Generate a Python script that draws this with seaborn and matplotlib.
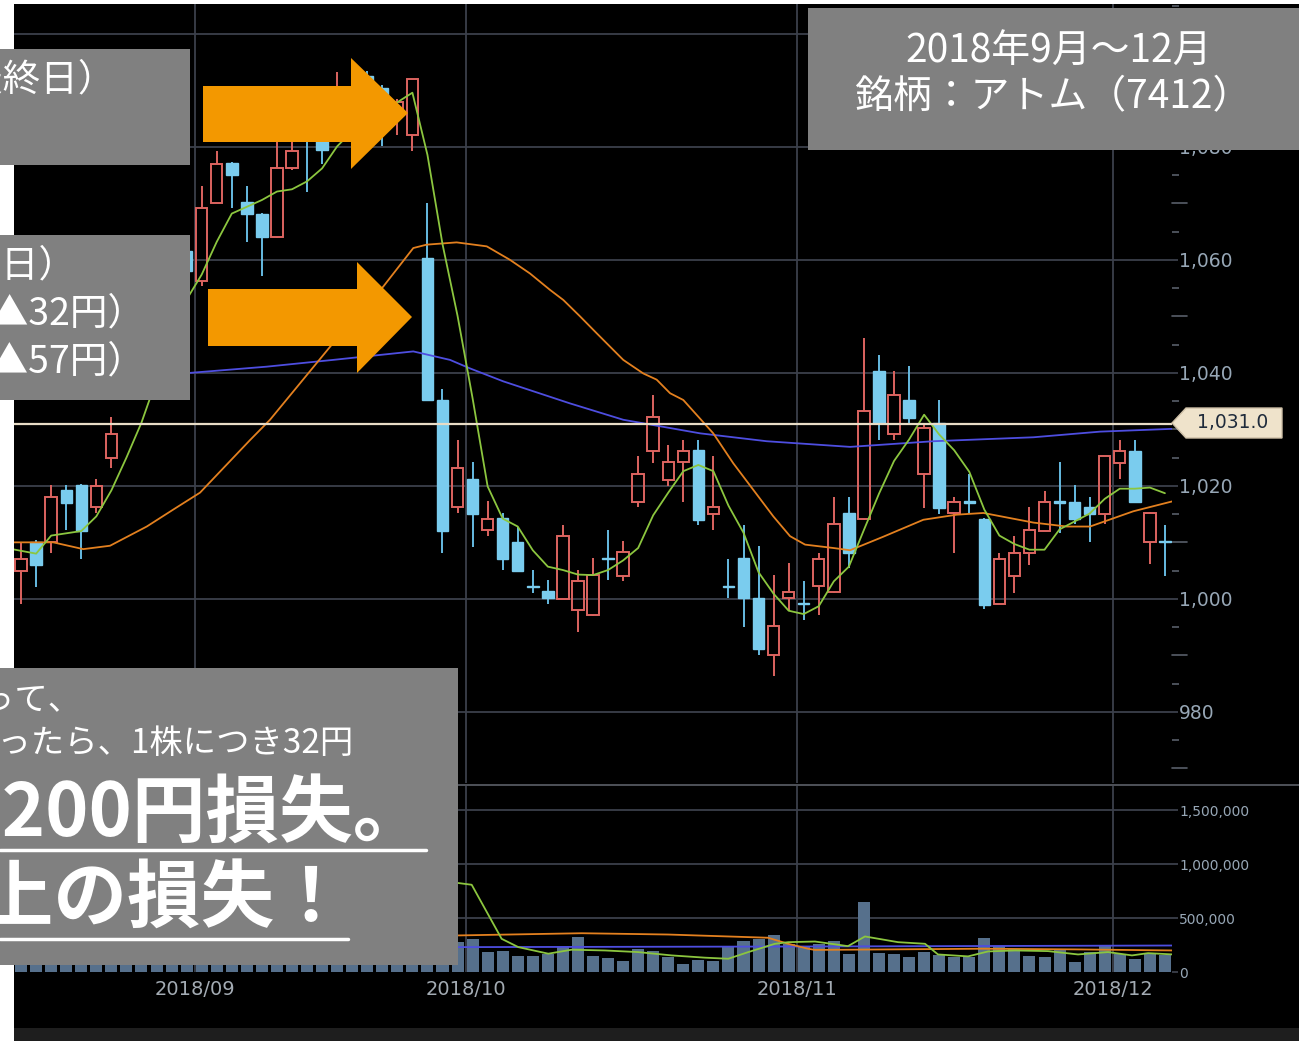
import numpy as np
import pandas as pd
import seaborn as sns
import matplotlib.pyplot as plt
from matplotlib.patches import Rectangle, Polygon
from matplotlib.lines import Line2D
from matplotlib.transforms import blended_transform_factory
from matplotlib.ticker import FixedLocator, FuncFormatter

# アトム(7412) 日足 2018/08/16〜2018/12/06（x は営業日の通し番号）
opens = [1005.0, 1010.1, 1010.0, 1019.3, 1020.2, 1016.2, 1025.0, 1036.0, 1046.0, 1049.0,
         1051.0, 1061.5, 1056.2, 1070.0, 1077.1, 1070.2, 1068.1, 1064.0, 1076.2, 1085.0,
         1082.0, 1081.5, 1084.0, 1092.5, 1090.5, 1086.5, 1082.1, 1060.3, 1035.2, 1016.2,
         1021.2, 1012.2, 1014.3, 1010.1, 1002.3, 1001.3, 1000.0, 998.1, 997.1, 1007.2,
         1004.1, 1017.1, 1026.1, 1021.1, 1024.2, 1026.3, 1015.0, 1002.3, 1007.2, 1000.2,
         990.1, 1000.1, 999.2, 1002.2, 1001.2, 1015.2, 1014.2, 1040.3, 1029.2, 1035.2,
         1022.1, 1031.2, 1015.2, 1017.2, 1014.2, 999.1, 1004.1, 1008.2, 1012.0, 1017.2,
         1017.1, 1016.2, 1015.0, 1024.1, 1026.2, 1010.1, 1010.2]
highs = [1009.9, 1010.5, 1020.2, 1020.2, 1020.4, 1021.2, 1032.2, 1048.0, 1052.0, 1054.0,
         1063.5, 1062.5, 1073.1, 1079.2, 1077.3, 1073.1, 1068.3, 1082.0, 1083.0, 1087.0,
         1084.0, 1093.2, 1091.0, 1093.5, 1091.0, 1088.5, 1092.0, 1070.0, 1037.1, 1028.1,
         1024.3, 1017.3, 1015.2, 1012.8, 1005.1, 1003.4, 1013.1, 1005.1, 1007.2, 1012.2,
         1010.2, 1025.2, 1036.1, 1027.2, 1028.1, 1028.1, 1025.2, 1007.1, 1013.1, 1009.3,
         1004.2, 1006.3, 1003.2, 1008.1, 1018.1, 1018.1, 1046.1, 1043.2, 1040.3, 1041.2,
         1031.2, 1035.2, 1018.1, 1022.1, 1014.3, 1008.2, 1011.2, 1016.2, 1019.1, 1024.2,
         1020.2, 1018.1, 1025.3, 1028.1, 1028.1, 1015.3, 1013.1]
lows = [999.1, 1002.1, 1008.1, 1012.2, 1007.0, 1015.2, 1023.1, 1035.8, 1043.0, 1046.0,
        1050.0, 1056.0, 1055.3, 1070.0, 1069.1, 1063.1, 1057.1, 1063.8, 1076.0, 1072.0,
        1077.0, 1081.2, 1083.0, 1088.0, 1080.1, 1082.1, 1079.2, 1035.0, 1008.2, 1015.2,
        1009.1, 1011.1, 1005.1, 1005.0, 1001.0, 999.1, 1000.0, 994.1, 997.0, 1003.4,
        1003.2, 1016.2, 1024.1, 1020.0, 1017.1, 1013.1, 1012.1, 1000.1, 995.1, 990.1,
        986.3, 998.1, 996.3, 997.2, 1001.0, 1005.4, 1014.0, 1028.1, 1028.1, 1031.2,
        1016.0, 1015.0, 1008.2, 1015.0, 998.2, 999.0, 1001.0, 1006.0, 1012.0, 1011.7,
        1013.2, 1010.1, 1013.2, 1021.2, 1017.0, 1006.1, 1004.1]
closes = [1007.0, 1006.0, 1018.0, 1017.0, 1012.0, 1020.0, 1029.2, 1046.8, 1048.0, 1050.0,
          1062.0, 1058.0, 1069.1, 1077.0, 1075.0, 1068.1, 1064.0, 1076.3, 1079.2, 1082.0,
          1079.5, 1083.5, 1090.0, 1091.0, 1087.0, 1088.0, 1092.0, 1035.2, 1012.0, 1023.1,
          1015.0, 1014.1, 1007.0, 1005.0, 1002.1, 1000.1, 1011.2, 1003.2, 1004.2, 1007.0,
          1008.3, 1022.1, 1032.2, 1024.2, 1026.2, 1014.0, 1016.2, 1002.1, 1000.1, 991.1,
          995.2, 1001.2, 999.0, 1007.1, 1013.2, 1008.2, 1033.3, 1031.2, 1036.1, 1032.1,
          1030.2, 1016.0, 1017.1, 1017.0, 998.9, 1007.1, 1008.2, 1012.2, 1017.1, 1017.0,
          1014.2, 1015.0, 1025.2, 1026.1, 1017.1, 1015.2, 1010.0]
volumes = [250000, 200000, 300000, 220000, 200000, 250000, 350000, 400000, 300000, 350000,
           600000, 450000, 500000, 550000, 400000, 350000, 300000, 450000, 400000, 350000,
           400000, 500000, 450000, 500000, 550000, 400000, 1200000, 1675000, 590000, 283000,
           302000, 185000, 191000, 145000, 145000, 170000, 231000, 323000, 145000, 133000,
           102000, 216000, 191000, 139000, 71000, 108000, 102000, 231000, 286000, 302000,
           339000, 256000, 237000, 260000, 286000, 163000, 646000, 175000, 163000, 139000,
           185000, 154000, 139000, 139000, 314000, 246000, 216000, 145000, 139000, 200000,
           92000, 185000, 237000, 163000, 123000, 170000, 154000]

# 移動平均（画面から読み取り）
ma5_x = list(range(-1, 77))
ma5_y = [1009.0, 1008.5, 1008.0, 1011.2, 1011.6, 1012.0, 1014.6, 1019.2, 1025.0, 1031.2,
         1038.8, 1047.2, 1053.0, 1057.4, 1063.2, 1068.2, 1069.4, 1070.6, 1072.1, 1072.5,
         1073.9, 1076.2, 1080.1, 1082.8, 1085.2, 1086.2, 1087.9, 1089.6, 1078.6, 1062.8,
         1050.1, 1035.5, 1019.9, 1014.2, 1012.8, 1008.6, 1005.7, 1005.1, 1004.3, 1004.2,
         1005.1, 1006.8, 1009.0, 1014.8, 1018.8, 1022.6, 1023.7, 1022.6, 1016.5, 1011.7,
         1004.7, 1000.9, 997.9, 997.3, 998.7, 1003.1, 1005.7, 1012.2, 1018.6, 1024.4,
         1028.2, 1032.6, 1029.1, 1026.3, 1022.5, 1015.8, 1011.2, 1009.7, 1008.7, 1008.7,
         1012.3, 1013.7, 1015.1, 1017.7, 1019.5, 1019.5, 1019.7, 1018.7]
ma25_x = [-0.5, 2.14, 4.13, 5.91, 8.35, 10.11, 11.89, 15.21, 16.54, 20.74, 24.07, 26.06,
          26.95, 28.94, 30.94, 32.49, 33.81, 35.14, 36.03, 37.14, 38.25, 40.01, 41.34, 42.23,
          43.12, 44.0, 45.99, 47.32, 48.65, 49.98, 51.09, 52.09, 53.97, 55.08, 57.29, 59.95,
          62.17, 63.94, 67.26, 69.48, 71.02, 73.90, 76.56]
ma25_y = [1010.0, 1010.0, 1008.8, 1009.4, 1012.8, 1015.8, 1018.8, 1028.1, 1031.7, 1045.3,
          1055.3, 1062.1, 1062.7, 1063.1, 1062.4, 1060.0, 1057.6, 1054.7, 1052.9, 1050.0,
          1047.0, 1042.3, 1039.9, 1038.8, 1036.4, 1035.2, 1029.3, 1024.0, 1019.3, 1014.6,
          1011.1, 1009.6, 1009.0, 1008.6, 1011.0, 1014.0, 1014.9, 1015.2, 1013.5, 1012.8,
          1012.8, 1015.5, 1017.3]
ma75_x = [-0.5, 5.0, 11.22, 16.32, 20.74, 26.06, 28.50, 29.82, 32.04, 36.47, 40.01, 45.11,
          49.54, 55.08, 60.61, 67.26, 71.69, 76.56]
ma75_y = [1037.5, 1038.5, 1040.0, 1041.1, 1042.3, 1043.8, 1042.3, 1040.8, 1038.5, 1034.6,
          1031.7, 1029.3, 1027.9, 1026.9, 1027.9, 1028.6, 1029.6, 1030.1]
vma5_x = [-0.5, 5, 10, 15, 20, 25, 27, 28.83, 29.94, 31.93, 33.04, 35.03, 36.58, 38.80,
          40.99, 43.23, 45.44, 46.99, 48.32, 50.09, 50.98, 52.75, 54.94, 56.07, 58.27, 60.06,
          60.92, 62.92, 64.25, 66.04, 68.23, 70.23, 72.22, 73.81, 74.88, 76.54]
vma5_y = [300000, 280000, 400000, 450000, 420000, 500000, 750000, 830000, 810000, 308000,
          231000, 170000, 207000, 200000, 185000, 154000, 133000, 123000, 185000, 262000,
          277000, 283000, 240000, 330000, 277000, 262000, 163000, 145000, 191000, 200000,
          194000, 163000, 185000, 154000, 175000, 163000]
vma25_x = [-0.5, 15, 28.83, 37.25, 42.98, 49.63, 50.96, 52.29, 52.75, 63.83, 70.0, 76.54]
vma25_y = [300000, 320000, 339000, 360000, 348000, 318000, 262000, 216000, 205000, 216000,
           210000, 200000]
vma75_x = [-0.5, 28.83, 52.75, 76.54]
vma75_y = [225000, 231000, 237000, 246000]

month_first = [12, 30, 52, 73]
month_labels = ['2018/09', '2018/10', '2018/11', '2018/12']
ref_price = 1031.0

W, H = 1299, 1041
def fx(px):
    return px / W
def fy(py):
    return 1 - py / H

GRID = '#3b404b'
LABEL = '#97a7b6'
RED = '#dc6460'
BLUE = '#7accee'
BLUE_W = '#66bbe2'
GREEN = '#8cc63f'
ORANGE = '#e3801f'
PURPLE = '#4e4ee0'
VOLC = '#56708c'
JP = ['Noto Sans CJK JP', 'DejaVu Sans']

sns.set_style('dark')
plt.rcParams['font.family'] = ['DejaVu Sans']

df = pd.DataFrame({'o': opens, 'h': highs, 'l': lows, 'c': closes, 'v': volumes})
df['x'] = np.arange(len(df))
df['top'] = df[['o', 'c']].max(axis=1)
df['bot'] = df[['o', 'c']].min(axis=1)
df['hgt'] = (df['top'] - df['bot']).clip(lower=0.25)
up = df['c'] >= df['o']

fig = plt.figure(figsize=(W / 100, H / 100), dpi=100, facecolor='white')
fig.add_artist(Rectangle((fx(14), fy(1028)), 1 - fx(14), fy(4) - fy(1028),
                         transform=fig.transFigure, facecolor='black', edgecolor='none', zorder=-3))
fig.add_artist(Rectangle((fx(14), 0), 1 - fx(14), fy(1028),
                         transform=fig.transFigure, facecolor='#1e1e1e', edgecolor='none', zorder=-3))

ax_p = fig.add_axes([fx(14), fy(783), fx(1172) - fx(14), fy(4) - fy(783)])
ax_v = fig.add_axes([fx(14), fy(972), fx(1172) - fx(14), fy(786) - fy(972)], sharex=ax_p)
for ax in (ax_p, ax_v):
    ax.set_facecolor('none')
    ax.grid(False)
    for s in ax.spines.values():
        s.set_visible(False)

# 区切り線
fig.add_artist(Line2D([fx(14), 1], [fy(784.5), fy(784.5)], color='#5c6068', lw=1.2, zorder=1))

# グリッド
for v in range(980, 1101, 20):
    ax_p.axhline(v, color=GRID, lw=1.3, zorder=1)
for v in [500000, 1000000, 1500000]:
    ax_v.axhline(v, color=GRID, lw=1.3, zorder=1)
month_grid = [m - 0.45 for m in month_first]
for m in month_grid:
    ax_p.axvline(m, color=GRID, lw=1.3, zorder=1)
    ax_v.axvline(m, color=GRID, lw=1.3, zorder=1)

# ローソク足
d_up, d_dn = df[up], df[~up]
ax_p.vlines(d_up['x'], d_up['top'], d_up['h'], color=RED, lw=1.4, zorder=3)
ax_p.vlines(d_up['x'], d_up['l'], d_up['bot'], color=RED, lw=1.4, zorder=3)
ax_p.vlines(d_dn['x'], d_dn['top'], d_dn['h'], color=BLUE_W, lw=1.4, zorder=3)
ax_p.vlines(d_dn['x'], d_dn['l'], d_dn['bot'], color=BLUE_W, lw=1.4, zorder=3)
ax_p.bar(d_up['x'], d_up['hgt'], bottom=d_up['bot'], width=0.76, facecolor='none',
         edgecolor=RED, linewidth=1.4, zorder=3)
ax_p.bar(d_dn['x'], d_dn['hgt'], bottom=d_dn['bot'], width=0.76, facecolor=BLUE,
         edgecolor=BLUE, linewidth=1.0, zorder=3)

# 移動平均線
sns.lineplot(x=ma75_x, y=ma75_y, ax=ax_p, color=PURPLE, lw=1.3, estimator=None, sort=False, zorder=4)
sns.lineplot(x=ma25_x, y=ma25_y, ax=ax_p, color=ORANGE, lw=1.3, estimator=None, sort=False, zorder=4)
sns.lineplot(x=ma5_x, y=ma5_y, ax=ax_p, color=GREEN, lw=1.3, estimator=None, sort=False, zorder=4)
ax_p.axhline(ref_price, color='#e8dcc6', lw=1.6, zorder=5)

# 出来高
sns.barplot(x=df['x'], y=df['v'], native_scale=True, ax=ax_v, color=VOLC, saturation=1,
            width=0.8, errorbar=None, linewidth=0, edgecolor='none', zorder=2)
sns.lineplot(x=vma75_x, y=vma75_y, ax=ax_v, color=PURPLE, lw=1.3, estimator=None, sort=False, zorder=4)
sns.lineplot(x=vma25_x, y=vma25_y, ax=ax_v, color=ORANGE, lw=1.3, estimator=None, sort=False, zorder=4)
sns.lineplot(x=vma5_x, y=vma5_y, ax=ax_v, color=GREEN, lw=1.3, estimator=None, sort=False, zorder=4)

ax_p.set_xlim(-0.47, 76.47)
ax_p.set_ylim(967.4, 1105.3)
ax_v.set_ylim(0, 1727000)
for ax in (ax_p, ax_v):
    ax.set_xlabel('')
    ax.set_ylabel('')

fmt = FuncFormatter(lambda v, p: f'{v:,.0f}')
ax_p.yaxis.tick_right()
ax_p.yaxis.set_major_locator(FixedLocator(list(range(980, 1081, 20))))
ax_p.yaxis.set_major_formatter(fmt)
ax_p.yaxis.set_minor_locator(FixedLocator(list(range(965, 1106, 10))))
ax_p.tick_params(axis='y', which='major', length=4, width=1.3, color=GRID,
                 labelsize=13.5, labelcolor=LABEL, pad=1)
ax_p.tick_params(axis='y', which='minor', length=5, width=1.2, color='#585e69')
ax_p.tick_params(axis='x', length=0, labelbottom=False)
tr = blended_transform_factory(ax_p.transAxes, ax_p.transData)
for v in range(970, 1105, 20):
    ax_p.plot([1.0, 1.0 + 15 / 1158], [v, v], transform=tr, color='#585e69', lw=1.2, clip_on=False)

ax_v.yaxis.tick_right()
ax_v.yaxis.set_major_locator(FixedLocator([0, 500000, 1000000, 1500000]))
ax_v.yaxis.set_major_formatter(fmt)
ax_v.tick_params(axis='y', length=4, width=1.3, color=GRID, labelsize=10, labelcolor=LABEL, pad=1)
ax_v.set_xticks(month_grid)
ax_v.set_xticklabels(month_labels)
ax_v.tick_params(axis='x', length=0, labelsize=14, labelcolor='#a3abb3', pad=6)

# 現在値タグ
tag = [(1172, 423), (1186, 408), (1282, 408), (1282, 438), (1186, 438)]
fig.add_artist(Polygon([(fx(a), fy(b)) for a, b in tag], closed=True, transform=fig.transFigure,
                       facecolor='#efe3cb', edgecolor='#cdbfa6', lw=1, zorder=6))
fig.text(fx(1233), fy(423), '1,031.0', ha='center', va='center', fontsize=13.5, color='#1f2b3b', zorder=7)

# 注釈ボックス
def gbox(x0, y0, x1, y1):
    fig.add_artist(Rectangle((fx(x0), fy(y1)), fx(x1) - fx(x0), fy(y0) - fy(y1),
                             transform=fig.transFigure, facecolor='#808080', edgecolor='none', zorder=8))

def jtext(x, y, s, size, bold=False, ha='right'):
    fig.text(fx(x), fy(y), s, ha=ha, va='center', fontsize=size, color='white', family=JP,
             fontweight='bold' if bold else 'normal', zorder=9)

gbox(0, 49, 190, 165)
jtext(116, 80, '9月25日（権利付最終日）', 27)
gbox(0, 235, 190, 400)
jtext(76, 266, '9月26日（権利落ち日）', 27)
jtext(145, 314, '始値：1,060円（前日比▲32円）', 27)
jtext(145, 362, '終値：1,035円（前日比▲57円）', 27)

gbox(0, 668, 458, 965)
jtext(82, 700, '権利付最終日に買って、', 24)
jtext(354, 744, '翌日に売ったら、1株につき32円', 24)
jtext(426, 813, '100株で3,200円損失。', 53, bold=True)
jtext(348, 900, '優待の価値以上の損失！', 53, bold=True)
fig.add_artist(Line2D([0, fx(426)], [fy(850), fy(850)], color='white', lw=2.5, zorder=9))
fig.add_artist(Line2D([0, fx(348)], [fy(939), fy(939)], color='white', lw=2.5, zorder=9))

gbox(808, 8, 1299, 150)
jtext(1059, 52, '2018年9月～12月', 28, ha='center')
jtext(1053, 97, '銘柄：アトム（7412）', 28, ha='center')

# 矢印
arrow1 = [(203, 86), (351, 86), (351, 58), (408, 113), (351, 169), (351, 142), (203, 142)]
arrow2 = [(208, 289), (357, 289), (357, 262), (412, 317), (357, 373), (357, 346), (208, 346)]
for arr in (arrow1, arrow2):
    fig.add_artist(Polygon([(fx(a), fy(b)) for a, b in arr], closed=True, transform=fig.transFigure,
                           facecolor='#f39800', edgecolor='none', zorder=8))

fig.savefig('out.png', dpi=100, facecolor='white')
